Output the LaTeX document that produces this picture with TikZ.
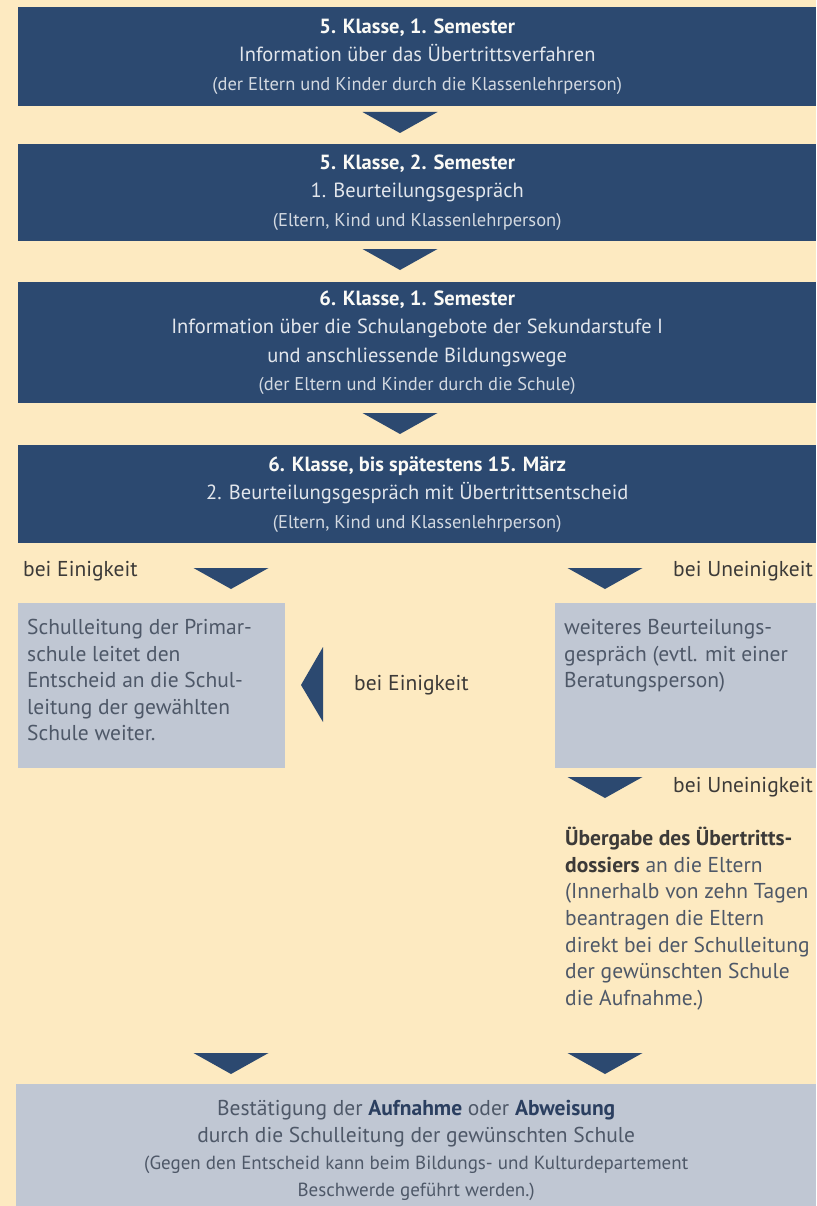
\documentclass[tikz,border=0pt]{standalone}
\usepackage{fontspec}
\setmainfont{PT Sans}
\definecolor{creme}{HTML}{FDEAC1}
\definecolor{navy}{HTML}{2C4970}
\definecolor{hellblau}{HTML}{C0C7D3}
\definecolor{titeltext}{HTML}{FAFAF6}
\definecolor{haupttext}{HTML}{E2E6EC}
\definecolor{kleintext}{HTML}{D3D9E1}
\definecolor{grautext}{HTML}{4E5868}
\definecolor{labeltext}{HTML}{3C3A38}
\definecolor{fetttext}{HTML}{2B3F60}
\begin{document}
\begin{tikzpicture}[x=1pt,y=-1pt,
dunkel/.style={fill=navy,text=haupttext,align=center,inner sep=0pt,anchor=north west,
  minimum width=798pt,font=\fontsize{20.5}{28.5}\selectfont},
hell/.style={fill=hellblau,text=grautext,align=left,inner xsep=9pt,inner ysep=16pt,
  anchor=north west,font=\fontsize{21.5}{26.6}\selectfont},
beschriftung/.style={text=labeltext,inner sep=0pt,font=\fontsize{21.5}{26.6}\selectfont},
runter/.pic={\fill[navy] (-37.5,0)--(37.5,0)--(0,21)--cycle;},
links/.pic={\fill[navy] (0,0)--(22,-38)--(22,37)--cycle;}]
\useasboundingbox (0,0) rectangle (816,1206);
\fill[creme] (0,0) rectangle (816,1206);
\node[dunkel,minimum height=99pt] (k5s1) at (18,7)
  {{\color{titeltext}\bfseries\fontsize{20.5}{28.5}\selectfont 5. Klasse, 1. Semester}\\
   Information über das Übertrittsverfahren\\
   {\color{kleintext}\fontsize{18.5}{28.5}\selectfont (der Eltern und Kinder durch die Klassenlehrperson)}};
\pic at (400,112) {runter};
\node[dunkel,minimum height=97pt] (k5s2) at (18,144)
  {{\color{titeltext}\bfseries\fontsize{20.5}{28.5}\selectfont 5. Klasse, 2. Semester}\\
   1. Beurteilungsgespräch\\
   {\color{kleintext}\fontsize{18.5}{28.5}\selectfont (Eltern, Kind und Klassenlehrperson)}};
\pic at (400,249) {runter};
\node[dunkel,minimum height=121pt] (k6s1) at (18,282)
  {{\color{titeltext}\bfseries\fontsize{20.5}{28.5}\selectfont 6. Klasse, 1. Semester}\\
   Information über die Schulangebote der Sekundarstufe I\\
   und anschliessende Bildungswege\\
   {\color{kleintext}\fontsize{18.5}{28.5}\selectfont (der Eltern und Kinder durch die Schule)}};
\pic at (400,413) {runter};
\node[dunkel,minimum height=98pt] (k6mz) at (18,445)
  {{\color{titeltext}\bfseries\fontsize{20.5}{28.5}\selectfont 6. Klasse, bis spätestens 15. März}\\
   2. Beurteilungsgespräch mit Übertrittsentscheid\\
   {\color{kleintext}\fontsize{18.5}{28.5}\selectfont (Eltern, Kind und Klassenlehrperson)}};
\node[beschriftung,anchor=west] (einig) at (23,571) {bei Einigkeit};
\pic at (231,568) {runter};
\pic at (605,568) {runter};
\node[beschriftung,anchor=east] (uneinig) at (813,571) {bei Uneinigkeit};
\node[hell] (primar) at (18,603)
  {\parbox[c][133pt][t]{249pt}{Schulleitung der Primar-\\schule leitet den\\Entscheid an die Schul-\\leitung der gewählten\\Schule weiter.}};
\pic at (301,685) {links};
\node[beschriftung,anchor=west] (einig2) at (354,685) {bei Einigkeit};
\node[hell] (weiteres) at (555,603)
  {\parbox[c][133pt][t]{243pt}{weiteres Beurteilungs-\\gespräch (evtl. mit einer\\Beratungsperson)}};
\pic at (605,777) {runter};
\node[beschriftung,anchor=east] (uneinig2) at (813,787) {bei Uneinigkeit};
\node[beschriftung,text=grautext,align=left,anchor=north west] (dossier) at (565,827)
  {{\color{labeltext}\bfseries Übergabe des Übertritts-}\\
   {\color{labeltext}\bfseries dossiers} an die Eltern\\
   (Innerhalb von zehn Tagen\\
   beantragen die Eltern\\
   direkt bei der Schulleitung\\
   der gewünschten Schule\\
   die Aufnahme.)};
\pic at (231,1053) {runter};
\pic at (605,1053) {runter};
\node[fill=hellblau,text=grautext,align=center,inner sep=0pt,anchor=north west,
  minimum width=800pt,minimum height=132pt,font=\fontsize{21.5}{27}\selectfont] (bestaetigung) at (16,1084)
  {Bestätigung der {\color{fetttext}\bfseries Aufnahme} oder {\color{fetttext}\bfseries Abweisung}\\
   durch die Schulleitung der gewünschten Schule\\
   {\fontsize{19}{27}\selectfont (Gegen den Entscheid kann beim Bildungs- und Kulturdepartement}\\
   {\fontsize{19}{27}\selectfont Beschwerde geführt werden.)}};
\end{tikzpicture}
\end{document}
